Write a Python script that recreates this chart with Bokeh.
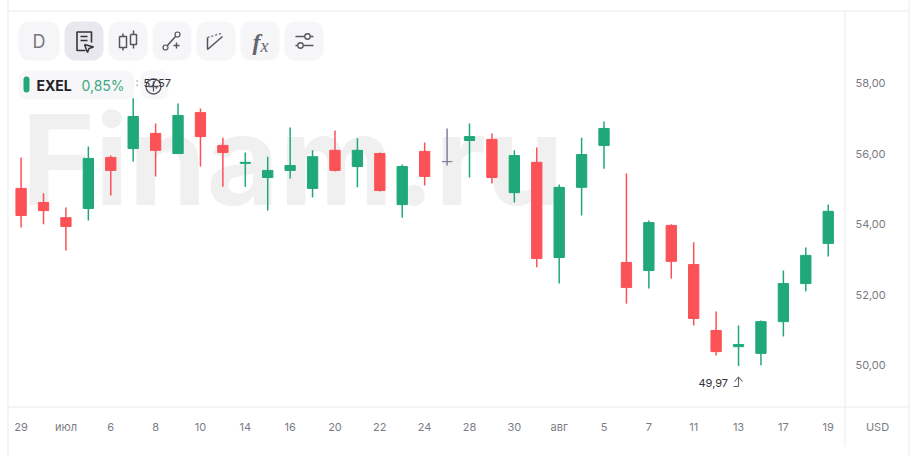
from bokeh.plotting import figure
from bokeh.models import BoxAnnotation, Label, ColumnDataSource, FixedTicker, Range1d
from bokeh.embed import file_html
from bokeh.resources import INLINE

x_labels = ["29", "июл", "6", "8", "10", "14", "16", "20", "22", "24", "28", "30", "авг", "5", "7", "11", "13", "17", "19"]
y_ticks = [50, 52, 54, 56, 58]
y_labels = ["50,00", "52,00", "54,00", "56,00", "58,00"]

opens = [55.01, 54.61, 54.18, 54.44, 55.89, 56.14, 56.57, 56.00, 57.16, 56.23, 55.72, 55.32, 55.52, 55.01, 56.09, 55.63, 56.00, 54.55, 56.06,
         55.77, 56.37, 56.40, 54.89, 55.75, 53.05, 55.04, 56.23, 52.91, 52.68, 53.96, 52.85, 50.98, 50.52, 50.33, 51.23, 52.31, 53.45]
highs = [55.89, 54.87, 54.47, 56.20, 55.94, 57.57, 56.85, 57.42, 57.28, 56.45, 56.03, 55.91, 56.74, 56.09, 56.65, 56.43, 56.03, 55.69, 56.31,
         56.71, 56.85, 56.57, 56.09, 56.17, 55.12, 56.45, 56.91, 55.43, 54.10, 53.99, 53.48, 51.52, 51.12, 51.26, 52.68, 53.33, 54.55]
lows = [53.90, 53.99, 53.25, 54.10, 54.81, 55.77, 55.35, 56.00, 55.63, 55.06, 55.06, 54.38, 55.29, 54.75, 55.49, 55.04, 54.92, 54.18, 55.09,
        55.66, 55.32, 55.15, 54.61, 52.77, 52.31, 54.24, 55.57, 51.74, 52.17, 52.45, 51.12, 50.27, 49.97, 49.99, 50.81, 52.09, 53.08]
closes = [54.24, 54.38, 53.93, 55.86, 55.52, 57.05, 56.09, 57.08, 56.48, 56.03, 55.75, 55.52, 55.66, 55.91, 55.52, 56.09, 54.95, 55.63, 55.35,
          55.77, 56.48, 55.32, 55.94, 53.02, 55.04, 55.97, 56.71, 52.20, 54.04, 52.94, 51.32, 50.38, 50.58, 51.23, 52.31, 53.11, 54.36]

GREEN, RED, GREY = "#20a878", "#fb5257", "#7f7f9a"
LINE = "#ececf0"
TXT = "#7b7b83"
ICON = "#55555f"

# page-pixel <-> data mapping for the chart furniture
X0, XS = 20.6, 22.42
Y50, YS = 364.5, 35.25
def X(px): return (px - X0) / XS
def Y(py): return 50 + (Y50 - py) / YS

p = figure(width=916, height=456, output_backend="svg", toolbar_location=None,
           x_range=Range1d(X(0), X(916)), y_range=Range1d(Y(456), Y(0)),
           y_axis_location="right", background_fill_color="white", border_fill_color="white",
           min_border_left=0, min_border_right=0, min_border_top=0, min_border_bottom=0)
p.outline_line_color = None
p.grid.visible = False

p.xaxis.ticker = FixedTicker(ticks=[i * 2 for i in range(len(x_labels))])
p.xaxis.major_label_overrides = {i * 2: t for i, t in enumerate(x_labels)}
p.yaxis.ticker = FixedTicker(ticks=y_ticks)
p.yaxis.major_label_overrides = dict(zip(y_ticks, y_labels))
for ax in (p.xaxis[0], p.yaxis[0]):
    ax.axis_line_color = None
    ax.major_tick_line_color = None
    ax.minor_tick_line_color = None
    ax.major_label_text_font = "Inter"
    ax.major_label_text_font_size = "11px"
    ax.major_label_text_color = TXT
p.xaxis.fixed_location = Y(406)
p.yaxis.fixed_location = X(844)
p.xaxis.major_label_standoff = 7
p.yaxis.major_label_standoff = 5

def box(l, t, r, b, color, radius=0, level="underlay"):
    p.add_layout(BoxAnnotation(left=X(l), right=X(r), top=Y(t), bottom=Y(b), fill_color=color, fill_alpha=1,
                               line_color=None, border_radius=radius, level=level))

def label(px, py, text, size, color, align="left", weight="normal", style=None, font="Inter", level="annotation"):
    p.add_layout(Label(x=X(px), y=Y(py), text=text, text_font=font, text_font_size=size, text_color=color,
                       text_align=align, text_baseline="middle",
                       text_font_style=(style or weight), level=level))

def poly(points, color=ICON, width=1.5, dash="solid"):
    p.line([X(a) for a, _ in points], [Y(b) for _, b in points], line_color=color, line_width=width, line_dash=dash)

# frame lines
box(7, 0, 8, 456, LINE)
box(844, 10, 845, 446, LINE)
box(908, 0, 909, 456, LINE)
box(8, 10, 908, 11, LINE)
box(8, 406, 908, 407, LINE)

# watermark
label(21, 159, "Finam.ru", "125px", "#f0f0f1", weight="bold", level="underlay")

# candles
idx = list(range(len(opens)))
colors = [GREEN if c > o else RED if c < o else GREY for o, c in zip(opens, closes)]
src = ColumnDataSource(dict(x=idx, o=opens, h=highs, l=lows, c=closes, color=colors,
                            top=[max(a, b) for a, b in zip(opens, closes)],
                            bottom=[min(a, b) for a, b in zip(opens, closes)]))
p.segment("x", "h", "x", "l", source=src, line_color="color", line_width=1.5)
p.vbar("x", width=0.46, top="top", bottom="bottom", source=src, fill_color="color", line_color="color", line_width=1)

# toolbar buttons
for l, r, col in [(18, 59, "#f6f6f8"), (64, 103, "#e8e8ee"), (108, 147, "#f6f6f8"), (152, 191, "#f6f6f8"),
                  (196, 235, "#f6f6f8"), (240, 279, "#f6f6f8"), (284, 323, "#f6f6f8")]:
    box(l, 21, r, 60, col, radius=11)
label(38.5, 41, "D", "18px", "#77777f", align="center")

# note-with-cursor icon
poly([(85, 50), (76.5, 50), (76.5, 31.5), (91, 31.5), (91, 42)], "#33333b", 1.6)
poly([(80, 36), (87, 36)], "#33333b", 1.4)
poly([(80, 40), (87, 40)], "#33333b", 1.4)
poly([(84, 44), (93, 46.5), (88.5, 48), (87, 52), (84, 44)], "#33333b", 1.5)
# candles icon
poly([(119, 36), (126, 36), (126, 47), (119, 47), (119, 36)])
poly([(122.5, 33), (122.5, 36)])
poly([(122.5, 47), (122.5, 50)])
poly([(130, 34), (136, 34), (136, 44), (130, 44), (130, 34)])
poly([(133, 30), (133, 34)])
poly([(133, 44), (133, 48)])
# line tool icon
poly([(166, 46), (175, 36)])
poly([(173, 45), (179, 45)], width=1.4)
poly([(176, 42), (176, 48)], width=1.4)
p.scatter([X(165), X(177)], [Y(47), Y(34)], size=5, fill_color="#f6f6f8", line_color=ICON, line_width=1.2)
# fan tool icon
poly([(222, 36), (207, 49), (207, 37)])
poly([(207, 37), (222, 32.5)], width=1.2, dash="2 2")
# fx
label(252, 41, "f", "24px", "#66666e", style="bold italic", font="Liberation Serif")
label(260, 45, "x", "18px", "#66666e", style="italic", font="Liberation Serif")
# sliders icon
poly([(295, 36), (313, 36)])
poly([(295, 45), (313, 45)])
p.scatter([X(307), X(300)], [Y(36), Y(45)], size=5.5, fill_color="#f6f6f8", line_color=ICON, line_width=1.3)

# legend pill
box(18, 70, 134, 99, "#f7f7f9", radius=9)
box(23, 76, 29, 92, GREEN, radius=3, level="annotation")
label(36, 85, "EXEL", "14px", "#222228", weight="bold")
label(81, 85, "0,85%", "14px", "#3aa981")
label(135, 81, ":", "11px", "#999999")
box(140, 70, 168, 99, "#f7f7f9", radius=9)
p.circle([X(153)], [Y(86)], radius=7.5, radius_units="screen", fill_color=None, line_color=ICON, line_width=1.3)
poly([(148, 86), (158, 86)], width=1.3)
poly([(153, 81), (153, 91)], width=1.3)

# extreme labels
label(143, 82, "57,57", "11px", "#333338")
label(698, 382, "49,97", "11px", "#333338")
poly([(733, 386), (738, 386), (738, 377)], "#666670", 1.1)
poly([(734, 381), (738, 376.5), (742, 381)], "#666670", 1.1)

# currency
label(877, 426, "USD", "11px", TXT, align="center")

open("out.html", "w").write(file_html(p, INLINE))
